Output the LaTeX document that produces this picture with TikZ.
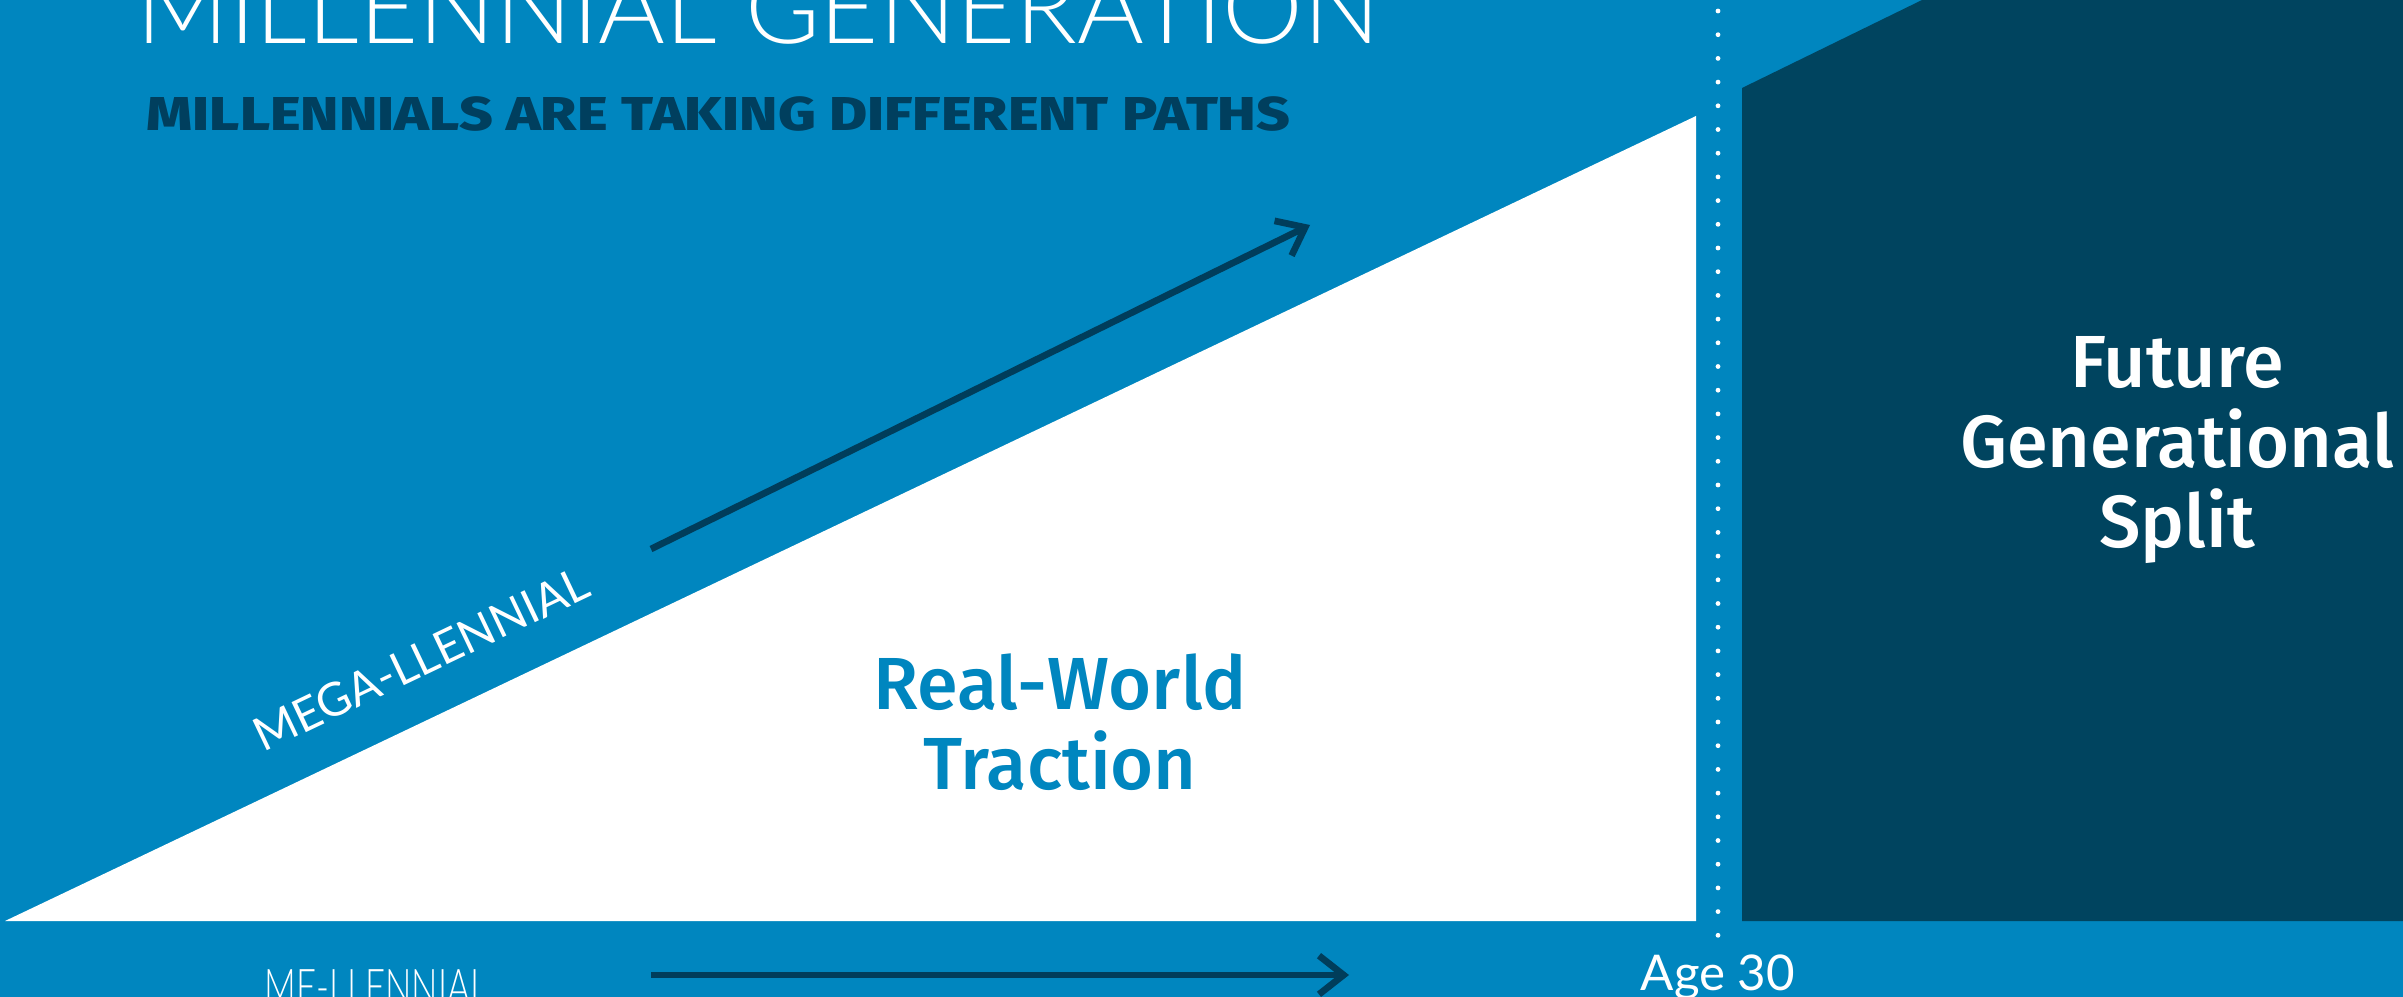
\documentclass[tikz,border=0pt]{standalone}
\usepackage{fontspec}
\setmainfont{Lato}
\newfontfamily\thinfont{Lato Light}
\newfontfamily\regfont{Lato}
\newfontfamily\medfont{Fira Sans Medium}
\newfontfamily\heavyfont{Fira Sans ExtraBold}
\usetikzlibrary{arrows.meta}
\definecolor{bgblue}{HTML}{0086BF}
\definecolor{darkbox}{HTML}{00445F}
\definecolor{arrowc}{HTML}{003D5B}
\definecolor{subc}{HTML}{003F5E}
\tikzset{
  pathArrow/.style={draw=arrowc, line width=1.9pt, -{Straight Barb[length=7pt,width=11pt,line width=1.9pt]}},
  bigLabel/.style={font=\medfont\fontsize{21}{22.7}\selectfont, align=center, inner sep=0pt},
  thinLabel/.style={font=\thinfont, text=white, inner sep=0pt}
}
\begin{document}
\begin{tikzpicture}[x=0.01cm,y=-0.01cm]
\useasboundingbox (0,0) rectangle (2403,997);
\fill[bgblue] (0,0) rectangle (2403,997);
% white triangle
\fill[white] (5,921) -- (1696,116) -- (1696,921) -- cycle;
% dark box
\fill[darkbox] (1742,921) -- (1742,88) -- (1922,0) -- (2403,0) -- (2403,921) -- cycle;
% dotted line
\foreach \k in {0,...,39} {
  \fill[white] (1718,{11+23.7*\k}) circle[radius=2.4];
}
% title
\node[thinLabel, anchor=base west, font=\thinfont\fontsize{29}{33}\selectfont] (title) at (136,44) {MILLENNIAL GENERATION};
\node[anchor=base west, inner sep=0pt, text=subc, font=\heavyfont\fontsize{13.5}{16}\selectfont] (sub) at (146,131) {\scalebox{1.23}[1]{MILLENNIALS ARE TAKING DIFFERENT PATHS}};
% arrows
\coordinate (megaStart) at (651,549);
\coordinate (megaEnd) at (1310,225);
\coordinate (meStart) at (651,975);
\coordinate (meEnd) at (1349,975);
\draw[pathArrow] (megaStart) -- (megaEnd);
\draw[pathArrow] (meStart) -- (meEnd);
% labels
\node[thinLabel, rotate=25.5, font=\regfont\fontsize{13.2}{15}\selectfont] (mega) at (421,659) {MEGA-LLENNIAL};
\node[thinLabel, anchor=base west, font=\thinfont\fontsize{14}{16}\selectfont] (me) at (264,1004) {\scalebox{0.71}[1]{ME-LLENNIAL}};
\node[thinLabel, anchor=base west, font=\regfont\fontsize{14}{17}\selectfont] (age) at (1640,990) {Age 30};
\node[bigLabel, text=bgblue] (traction) at (1060,722) {Real-World\\Traction};
\node[bigLabel, text=white] (future) at (2177,450) {Future\\Generational\\Split};
\end{tikzpicture}
\end{document}
